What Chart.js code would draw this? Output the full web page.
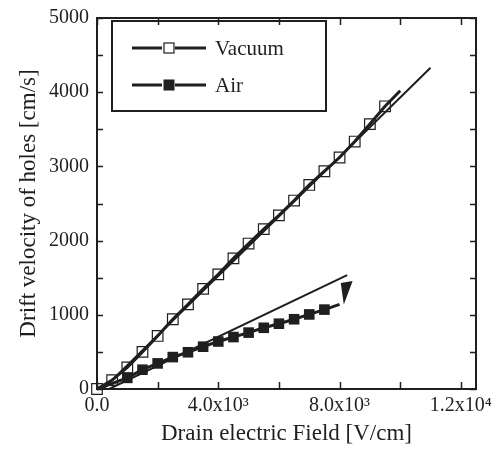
<!DOCTYPE html>
<html>
<head>
<meta charset="utf-8">
<script src="https://cdn.jsdelivr.net/npm/chart.js@4/dist/chart.umd.min.js"></script>
<style>
  html, body { margin: 0; padding: 0; background: #fff; }
  #wrap { width: 502px; height: 452px; }
</style>
</head>
<body>
<div id="wrap"><canvas id="chart" width="502" height="452"></canvas></div>
<script>
'use strict';

// ── Data ───────────────────────────────────────────────────────────────────────
const vacuumField    = [0, 500, 1000, 1500, 2000, 2500, 3000, 3500, 4000, 4500, 5000,
                        5500, 6000, 6500, 7000, 7500, 8000, 8500, 9000, 9500, 10000];
const vacuumVelocity = [0, 120, 290, 500, 715, 940, 1140, 1350, 1545, 1760, 1960,
                        2155, 2340, 2540, 2750, 2935, 3120, 3335, 3570, 3810, 4020];

const airField    = [0, 1000, 1500, 2000, 2500, 3000, 3500, 4000, 4500, 5000,
                     5500, 6000, 6500, 7000, 7500, 8000];
const airVelocity = [0, 150, 260, 345, 430, 495, 570, 640, 700, 760,
                     825, 880, 940, 1005, 1070, 1140];

// straight fit lines
const vacuumFitField    = [200, 11000];
const vacuumFitVelocity = [0, 4330];
const airFitField       = [400, 8250];
const airFitVelocity    = [0, 1535];

// arrow head at end of the Air curve
const arrowField    = [8040, 8430, 8140];
const arrowVelocity = [1430, 1455, 1140];

// axes
const xTickValues = [0, 2000, 4000, 6000, 8000, 10000, 12000];
const xTickLabels = { 0: '0.0', 4000: '4.0x10³', 8000: '8.0x10³', 12000: '1.2x10⁴' };
const yTickValues = [0, 500, 1000, 1500, 2000, 2500, 3000, 3500, 4000, 4500, 5000];
const yTickLabels = { 0: '0', 1000: '1000', 2000: '2000', 3000: '3000', 4000: '4000', 5000: '5000' };

// ── Style ──────────────────────────────────────────────────────────────────────
const INK = '#1f1f1f';
const SERIF = "'Liberation Serif', 'DejaVu Serif', serif";
const MARK = 7.5;

const toPoints = (xs, ys) => xs.map((x, i) => ({ x, y: ys[i] }));

// hide markers at line ends that had none in the figure
const vacuumRadius = vacuumField.map((_, i) => (i === vacuumField.length - 1 ? 0 : MARK));
const airRadius = airField.map((_, i) => (i === 0 || i === airField.length - 1 ? 0 : MARK));

// ── Plugins ────────────────────────────────────────────────────────────────────

// frame with inward ticks on all four sides, plus the arrow head
const framePlugin = {
  id: 'framePlugin',
  afterDatasetsDraw(chart) {
    const { ctx, chartArea: a, scales: { x, y } } = chart;
    ctx.save();

    // arrow head
    ctx.fillStyle = INK;
    ctx.beginPath();
    arrowField.forEach((v, i) => {
      const px = x.getPixelForValue(v);
      const py = y.getPixelForValue(arrowVelocity[i]);
      if (i === 0) ctx.moveTo(px, py); else ctx.lineTo(px, py);
    });
    ctx.closePath();
    ctx.fill();

    ctx.strokeStyle = INK;
    ctx.lineWidth = 1.5;
    ctx.beginPath();
    xTickValues.forEach(v => {
      const px = Math.round(x.getPixelForValue(v)) + 0.5;
      ctx.moveTo(px, a.bottom); ctx.lineTo(px, a.bottom - 7);
      ctx.moveTo(px, a.top); ctx.lineTo(px, a.top + 7);
    });
    yTickValues.forEach(v => {
      const py = Math.round(y.getPixelForValue(v)) + 0.5;
      ctx.moveTo(a.left, py); ctx.lineTo(a.left + 6, py);
      ctx.moveTo(a.right, py); ctx.lineTo(a.right - 6, py);
    });
    ctx.stroke();

    ctx.lineWidth = 2;
    ctx.strokeRect(a.left, a.top, a.right - a.left, a.bottom - a.top);
    ctx.restore();
  },
};

// boxed legend: line - marker - line, then label
const legendPlugin = {
  id: 'legendPlugin',
  afterDraw(chart) {
    const { ctx } = chart;
    const entries = chart.data.datasets.filter(d => d.inLegend);
    ctx.save();
    ctx.strokeStyle = INK;
    ctx.lineWidth = 2;
    ctx.strokeRect(112, 21, 214, 90);

    entries.forEach((d, i) => {
      const cy = 48 + i * 37;
      ctx.lineWidth = 3;
      ctx.beginPath();
      ctx.moveTo(132, cy); ctx.lineTo(162, cy);
      ctx.moveTo(175, cy); ctx.lineTo(206, cy);
      ctx.stroke();
      const s = 11;
      ctx.lineWidth = 1.2;
      if (d.pointBackgroundColor === INK) {
        ctx.fillStyle = INK;
        ctx.fillRect(169 - s / 2, cy - s / 2, s, s);
      } else {
        ctx.strokeRect(169 - s / 2 + 0.5, cy - s / 2 + 0.5, s - 1, s - 1);
      }
      ctx.fillStyle = INK;
      ctx.font = `21px ${SERIF}`;
      ctx.textBaseline = 'middle';
      ctx.fillText(d.label, 215, cy + 1);
    });
    ctx.restore();
  },
};

// ── Chart ──────────────────────────────────────────────────────────────────────
const ctx = document.getElementById('chart').getContext('2d');

new Chart(ctx, {
  type: 'scatter',
  data: {
    datasets: [
      {
        label: 'Vacuum',
        inLegend: true,
        data: toPoints(vacuumField, vacuumVelocity),
        showLine: true,
        borderColor: INK,
        borderWidth: 3,
        pointStyle: 'rect',
        pointRadius: vacuumRadius,
        pointBorderWidth: 1.2,
        pointBorderColor: INK,
        pointBackgroundColor: 'rgba(255,255,255,0)',
        clip: false,
      },
      {
        label: 'Air',
        inLegend: true,
        data: toPoints(airField, airVelocity),
        showLine: true,
        borderColor: INK,
        borderWidth: 3,
        pointStyle: 'rect',
        pointRadius: airRadius,
        pointBorderWidth: 0,
        pointBackgroundColor: INK,
        clip: false,
      },
      {
        label: 'Vacuum fit',
        data: toPoints(vacuumFitField, vacuumFitVelocity),
        showLine: true,
        borderColor: INK,
        borderWidth: 2,
        pointRadius: 0,
      },
      {
        label: 'Air fit',
        data: toPoints(airFitField, airFitVelocity),
        showLine: true,
        borderColor: INK,
        borderWidth: 2,
        pointRadius: 0,
      },
    ],
  },
  options: {
    responsive: false,
    animation: false,
    layout: { padding: { top: 10, right: 26, left: 0, bottom: 0 } },
    plugins: {
      legend: { display: false },
      tooltip: { enabled: false },
    },
    scales: {
      x: {
        type: 'linear',
        min: 0,
        max: 12500,
        afterBuildTicks: s => { s.ticks = xTickValues.map(v => ({ value: v })); },
        afterFit: s => { s.height = 63; },
        grid: { display: false, drawTicks: false },
        border: { display: false },
        ticks: {
          autoSkip: false,
          maxRotation: 0,
          padding: 5,
          color: INK,
          font: { family: SERIF, size: 20 },
          callback: v => xTickLabels[v] ?? '',
        },
        title: {
          display: true,
          text: 'Drain electric Field [V/cm]',
          color: INK,
          font: { family: SERIF, size: 23 },
          padding: { top: 0, bottom: 4 },
        },
      },
      y: {
        type: 'linear',
        min: 0,
        max: 5000,
        afterBuildTicks: s => { s.ticks = yTickValues.map(v => ({ value: v })); },
        afterFit: s => { s.width = 97; },
        grid: { display: false, drawTicks: false },
        border: { display: false },
        ticks: {
          autoSkip: false,
          padding: 8,
          color: INK,
          font: { family: SERIF, size: 20, lineHeight: 1 },
          callback: v => yTickLabels[v] ?? '',
        },
        title: {
          display: true,
          text: 'Drift velocity of holes [cm/s]',
          color: INK,
          font: { family: SERIF, size: 23 },
          padding: { top: 15, bottom: 0 },
        },
      },
    },
  },
  plugins: [framePlugin, legendPlugin],
});
</script>
</body>
</html>
